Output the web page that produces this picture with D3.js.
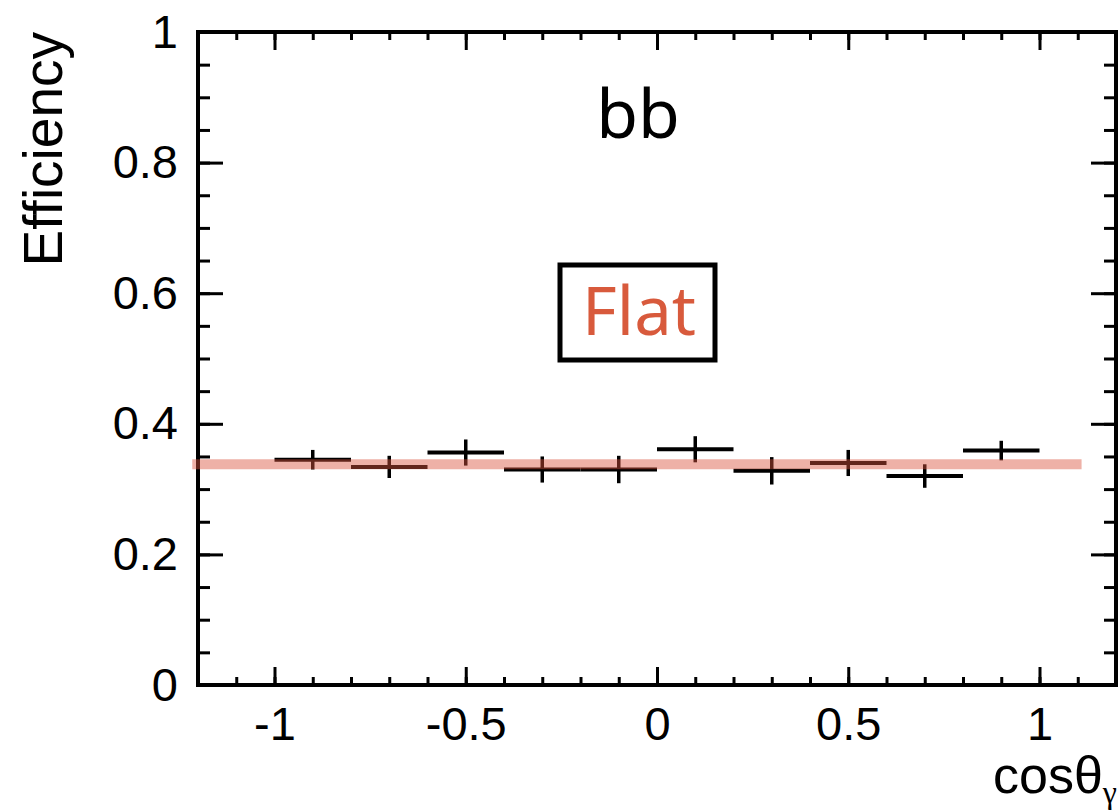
<!DOCTYPE html>
<html>
<head>
<meta charset="utf-8">
<script src="https://cdn.jsdelivr.net/npm/d3@7"></script>
<style>
  html, body { margin: 0; padding: 0; background: #fff; }
  svg { display: block; }
</style>
</head>
<body>
<svg id="chart" width="1118" height="810"></svg>
<script>
// Efficiency vs cos(theta_gamma), 10 bins from -1 to 1
const binLow  = [-1.0, -0.8, -0.6, -0.4, -0.2, 0.0, 0.2, 0.4, 0.6, 0.8];
const binHigh = [-0.8, -0.6, -0.4, -0.2, 0.0, 0.2, 0.4, 0.6, 0.8, 1.0];
const efficiency = [0.345, 0.334, 0.356, 0.330, 0.330, 0.361, 0.328, 0.340, 0.320, 0.359];
const errors     = [0.015, 0.017, 0.020, 0.020, 0.021, 0.020, 0.021, 0.020, 0.018, 0.015];

// Flat reference level
const flatLevel = 0.338;
const flatRange = [-1.215, 1.11];

const xMajorTicks = [-1, -0.5, 0, 0.5, 1];
const xTickLabels = ["-1", "-0.5", "0", "0.5", "1"];
const yMajorTicks = [0, 0.2, 0.4, 0.6, 0.8, 1];
const yTickLabels = ["0", "0.2", "0.4", "0.6", "0.8", "1"];
const xMinorTicks = d3.range(-11, 12).map(i => i / 10);
const yMinorTicks = d3.range(0, 21).map(i => i / 20);

const svg = d3.select("#chart");
const frameL = 198, frameR = 1116, frameT = 32, frameB = 685;

const x = d3.scaleLinear().domain([-1.2, 1.2]).range([frameL, frameR]);
const y = d3.scaleLinear().domain([0, 1]).range([frameB, frameT]);

const axisFont = "'Liberation Sans', Arial, Helvetica, sans-serif";

function styleAxis(g) {
  g.select(".domain").remove();
  g.selectAll(".tick line").attr("stroke", "#000").attr("stroke-width", 3);
  g.selectAll(".tick text")
    .attr("fill", "#000")
    .style("font-family", axisFont)
    .style("font-size", "47px");
}

// Bottom axis
svg.append("g").attr("transform", `translate(0,${frameB})`)
  .call(d3.axisBottom(x).tickValues(xMinorTicks).tickSize(-8).tickFormat(""))
  .call(styleAxis);
svg.append("g").attr("transform", `translate(0,${frameB})`)
  .call(d3.axisBottom(x).tickValues(xMajorTicks).tickSize(-18).tickPadding(22)
    .tickFormat((d, i) => xTickLabels[i]))
  .call(styleAxis);

// Top axis
svg.append("g").attr("transform", `translate(0,${frameT})`)
  .call(d3.axisTop(x).tickValues(xMinorTicks).tickSize(-8).tickFormat(""))
  .call(styleAxis);
svg.append("g").attr("transform", `translate(0,${frameT})`)
  .call(d3.axisTop(x).tickValues(xMajorTicks).tickSize(-18).tickFormat(""))
  .call(styleAxis);

// Left axis
svg.append("g").attr("transform", `translate(${frameL},0)`)
  .call(d3.axisLeft(y).tickValues(yMinorTicks).tickSize(-12).tickFormat(""))
  .call(styleAxis);
svg.append("g").attr("transform", `translate(${frameL},0)`)
  .call(d3.axisLeft(y).tickValues(yMajorTicks).tickSize(-25).tickPadding(20)
    .tickFormat((d, i) => yTickLabels[i]))
  .call(styleAxis);

// Right axis
svg.append("g").attr("transform", `translate(${frameR},0)`)
  .call(d3.axisRight(y).tickValues(yMinorTicks).tickSize(-12).tickFormat(""))
  .call(styleAxis);
svg.append("g").attr("transform", `translate(${frameR},0)`)
  .call(d3.axisRight(y).tickValues(yMajorTicks).tickSize(-25).tickFormat(""))
  .call(styleAxis);

// Frame
svg.append("rect")
  .attr("x", frameL).attr("y", frameT)
  .attr("width", frameR - frameL).attr("height", frameB - frameT)
  .attr("fill", "none").attr("stroke", "#000").attr("stroke-width", 4);

// Data points with error bars
const pts = svg.append("g");
efficiency.forEach((v, i) => {
  const xc = (binLow[i] + binHigh[i]) / 2;
  pts.append("line")
    .attr("x1", x(binLow[i])).attr("x2", x(binHigh[i]))
    .attr("y1", y(v)).attr("y2", y(v))
    .attr("stroke", "#000").attr("stroke-width", 4);
  pts.append("line")
    .attr("x1", x(xc)).attr("x2", x(xc))
    .attr("y1", y(v - errors[i])).attr("y2", y(v + errors[i]))
    .attr("stroke", "#000").attr("stroke-width", 3.5);
});

// Flat fit line (translucent)
svg.append("line")
  .attr("x1", x(flatRange[0])).attr("x2", x(flatRange[1]))
  .attr("y1", y(flatLevel)).attr("y2", y(flatLevel))
  .attr("stroke", "#d9533c").attr("stroke-opacity", 0.45)
  .attr("stroke-width", 10);

// Axis titles
svg.append("text")
  .attr("transform", `translate(62,${frameT}) rotate(-90)`)
  .attr("text-anchor", "end")
  .style("font-family", axisFont).style("font-size", "55px")
  .text("Efficiency");

const xt = svg.append("text")
  .attr("x", 1117).attr("y", 793)
  .attr("text-anchor", "end")
  .style("font-family", axisFont).style("font-size", "52px");
xt.append("tspan").text("cosθ");
xt.append("tspan").attr("dy", 10)
  .style("font-family", "'Liberation Serif', 'Times New Roman', serif")
  .style("font-size", "32px").text("γ");

// Sample label
const labelFont = "'Noto Sans', 'Open Sans', sans-serif";
svg.append("text")
  .attr("x", 638).attr("y", 138)
  .attr("text-anchor", "middle")
  .style("font-family", labelFont).style("font-size", "68px")
  .text("bb");

// "Flat" boxed label
svg.append("rect")
  .attr("x", 560).attr("y", 265).attr("width", 155).attr("height", 95)
  .attr("fill", "#fff").attr("stroke", "#000").attr("stroke-width", 5);
svg.append("text")
  .attr("x", 639).attr("y", 335)
  .attr("text-anchor", "middle")
  .attr("fill", "#d85a3c")
  .style("font-family", labelFont).style("font-size", "67px")
  .text("Flat");
</script>
</body>
</html>
